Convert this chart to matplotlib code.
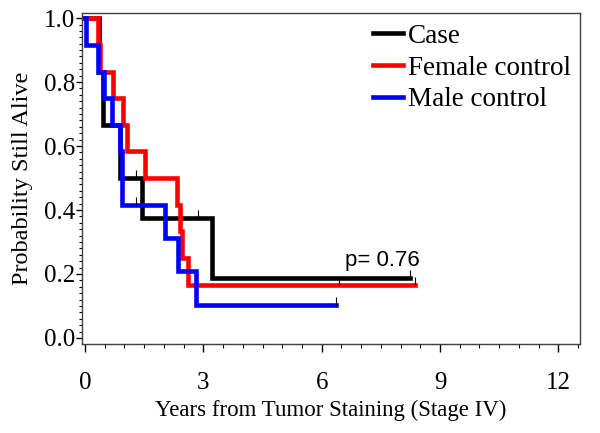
import numpy as np
import matplotlib
matplotlib.use("Agg")
import matplotlib.pyplot as plt
from matplotlib.ticker import MultipleLocator, FormatStrFormatter

# Kaplan-Meier step data
case_times = [0.0, 0.36, 0.46, 0.89, 1.44, 3.23]
case_surv = [1.0, 0.833, 0.667, 0.5, 0.375, 0.1875]
case_end = 8.24
case_censor = [1.29, 2.87, 8.24]

female_times = [0.0, 0.34, 0.37, 0.72, 0.97, 1.06, 1.52, 2.32, 2.42, 2.45, 2.62]
female_surv = [1.0, 0.917, 0.833, 0.75, 0.667, 0.583, 0.5, 0.417, 0.333, 0.25, 0.167]
female_end = 8.37
female_censor = [6.45, 8.37]

male_times = [0.0, 0.02, 0.33, 0.49, 0.68, 0.89, 0.93, 0.94, 2.04, 2.37, 2.81]
male_surv = [1.0, 0.917, 0.833, 0.75, 0.667, 0.583, 0.5, 0.417, 0.3125, 0.208, 0.104]
male_end = 6.36
male_censor = [1.29, 6.36]

p_text = "p= 0.76"

serif = "Liberation Serif"

fig = plt.figure(figsize=(6, 4.33), dpi=100)
ax = fig.add_axes([0.1367, 0.2055, 0.83, 0.7645])


def km_line(times, surv, end, censor, color, label):
    x = list(times) + [end]
    y = list(surv) + [surv[-1]]
    ax.step(x, y, where="post", color=color, lw=3.3, label=label,
            solid_joinstyle="miter")
    # censor marks: short upward ticks
    t = np.array(times)
    for c in censor:
        lvl = surv[np.searchsorted(t, c, side="right") - 1]
        ax.vlines(c, lvl, lvl + 0.024, color="black", lw=0.8, zorder=5)


km_line(case_times, case_surv, case_end, case_censor, "black", "Case")
km_line(female_times, female_surv, female_end, female_censor, "#ff0000", "Female control")
km_line(male_times, male_surv, male_end, male_censor, "#0000ff", "Male control")

ax.text(6.58, 0.208, p_text, fontsize=16, family="Liberation Sans", va="bottom")

ax.set_xlim(-0.076, 12.55)
ax.set_ylim(-0.019, 1.016)
ax.xaxis.set_major_locator(MultipleLocator(3))
ax.xaxis.set_minor_locator(MultipleLocator(0.5))
ax.yaxis.set_major_locator(MultipleLocator(0.2))
ax.yaxis.set_minor_locator(MultipleLocator(0.02))
ax.yaxis.set_major_formatter(FormatStrFormatter("%.1f"))

ax.tick_params(axis="x", which="major", direction="out", length=6, width=1, labelsize=18, pad=14)
ax.tick_params(axis="x", which="minor", direction="out", length=3, width=0.8)
ax.tick_params(axis="y", which="major", direction="out", length=4, width=1, labelsize=18, pad=1)
ax.tick_params(axis="y", which="minor", direction="out", length=2.5, width=0.8)
for lab in ax.get_xticklabels() + ax.get_yticklabels():
    lab.set_family(serif)
for s in ax.spines.values():
    s.set_color("#404040")
    s.set_linewidth(1)

ax.set_xlabel("Years from Tumor Staining (Stage IV)", fontsize=16.5, family=serif, labelpad=4)
ax.set_ylabel("Probability Still Alive", fontsize=17.5, family=serif, labelpad=8)

ax.legend(loc="upper right", frameon=False, prop={"family": serif, "size": 19.5},
          handlelength=1.1, handletextpad=0.2, labelspacing=0.25,
          borderaxespad=0.0, bbox_to_anchor=(1.004, 1.0))

fig.savefig("out.png", dpi=100)
